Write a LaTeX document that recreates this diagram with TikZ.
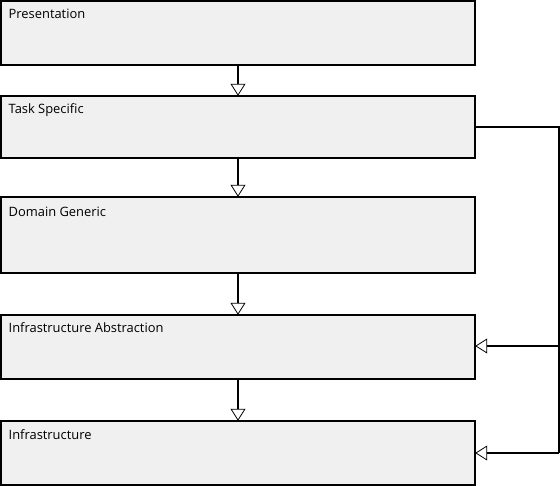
\documentclass[tikz,border=0pt]{standalone}
\usepackage{fontspec}
\setmainfont{Open Sans}
\usetikzlibrary{arrows.meta}
\definecolor{layerfill}{RGB}{240,240,240}
\begin{document}
\begin{tikzpicture}[x=1pt,y=-1pt,
  layer/.style={draw=black,line width=1.3pt,fill=layerfill},
  lbl/.style={anchor=base west,inner sep=0pt,font=\fontsize{12.9}{15}\selectfont},
  flow/.style={line width=1.3pt,-{Triangle[open,length=12pt,width=15pt,line width=0.8pt]}}]
  \useasboundingbox (0,0) rectangle (560,486);
  % layer boxes
  \draw[layer] (1,1) rectangle (475,65);
  \draw[layer] (1,96) rectangle (475,158);
  \draw[layer] (1,197) rectangle (475,273);
  \draw[layer] (1,315) rectangle (475,379);
  \draw[layer] (1,421) rectangle (475,485);
  \node (pres) [minimum width=474pt,minimum height=64pt,inner sep=0pt] at (238,33) {};
  \node (task) [minimum width=474pt,minimum height=62pt,inner sep=0pt] at (238,127) {};
  \node (dom)  [minimum width=474pt,minimum height=76pt,inner sep=0pt] at (238,235) {};
  \node (iabs) [minimum width=474pt,minimum height=64pt,inner sep=0pt] at (238,347) {};
  \node (infra)[minimum width=474pt,minimum height=64pt,inner sep=0pt] at (238,453) {};
  % labels
  \node[lbl] (tp) at (8.5,19) {Presentation};
  \node[lbl] (tt) at (8.5,113.5) {Task Specific};
  \node[lbl] (td) at (8.5,216.5) {Domain Generic};
  \node[lbl] (ta) at (8.5,332.5) {Infrastructure Abstraction};
  \node[lbl] (ti) at (8.5,439.5) {Infrastructure};
  % downward dependencies
  \draw[flow] (pres.south) -- (task.north);
  \draw[flow] (task.south) -- (dom.north);
  \draw[flow] (dom.south) -- (iabs.north);
  \draw[flow] (iabs.south) -- (infra.north);
  % bypass from task-specific layer
  \coordinate (c) at (559,127);
  \coordinate (c1) at (559,346);
  \coordinate (c2) at (559,453);
  \draw[line width=1.3pt] (task.east) -- (c) -- (c2);
  \draw[flow] (c1) -- (c1 -| iabs.east);
  \draw[flow] (c2) -- (c2 -| infra.east);
\end{tikzpicture}
\end{document}
